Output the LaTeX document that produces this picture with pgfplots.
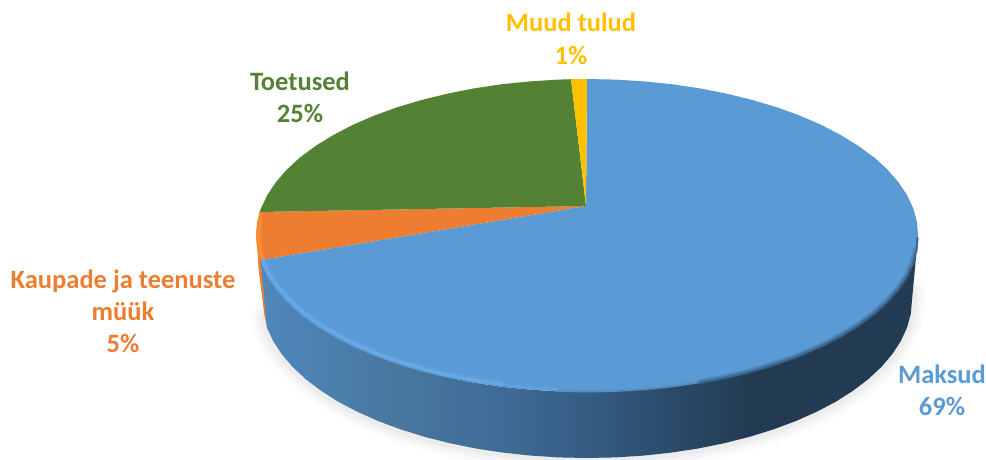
\documentclass[border=0pt]{standalone}
\usepackage{pgfplots}
\pgfplotsset{compat=1.18}
\usepackage{fontspec}
\setmainfont{Carlito}
\definecolor{cblue}{HTML}{5B9BD5}
\definecolor{corange}{HTML}{ED7D31}
\definecolor{cgreen}{HTML}{548235}
\definecolor{cyellow}{HTML}{FFC000}
\definecolor{s1}{HTML}{4F88BC}
\definecolor{s2}{HTML}{48779F}
\definecolor{s3}{HTML}{3F6C97}
\definecolor{s4}{HTML}{33597F}
\definecolor{s5}{HTML}{27445F}
\definecolor{s6}{HTML}{223B52}
\definecolor{rimlight}{HTML}{68ACEB}
\definecolor{rimorange}{HTML}{F98B36}
\pgfdeclarehorizontalshading{sideblue}{100bp}{color(0bp)=(s1); color(25bp)=(s1); color(35.6bp)=(s2); color(43.3bp)=(s3); color(51bp)=(s4); color(58.7bp)=(s5); color(62.5bp)=(s6); color(100bp)=(s6)}
\tikzset{lbl/.style={font=\fontsize{26.5}{30}\selectfont\bfseries, anchor=base, inner sep=0pt}}
\begin{document}
\begin{tikzpicture}
\path[use as bounding box] (0,0) rectangle (986pt,459pt);
\begin{axis}[
  at={(0,0)}, anchor=south west,
  scale only axis, width=986pt, height=459pt,
  xmin=0, xmax=986, ymin=0, ymax=459, y dir=reverse,
  hide axis, clip=true,
  every axis plot/.append style={line join=round, line cap=round}
]
% shadow
\addplot[draw=black, line width=26pt, opacity=0.02, forget plot] coordinates {
(912,290)(912,300)(910.8,313.8)(907.1,327.4)(900.9,340.9)(892.4,354)(881.5,366.8)(868.5,379)(853.2,390.6)(836,401.6)(816.8,411.7)(795.9,421)(773.4,429.4)(749.5,436.8)(724.3,443.2)(698.2,448.5)(671.1,452.6)(643.4,455.6)(615.3,457.4)(587,458)(558.7,457.4)(530.6,455.6)(502.9,452.6)(475.8,448.5)(449.7,443.2)(424.5,436.8)(400.6,429.4)(378.1,421)(357.2,411.7)(338,401.6)(320.8,390.6)(305.5,379)(292.5,366.8)(281.6,354)(273.1,340.9)(266.9,327.4)(264,318)
};
\addplot[draw=black, line width=18pt, opacity=0.025, forget plot] coordinates {
(912,290)(912,300)(910.8,313.8)(907.1,327.4)(900.9,340.9)(892.4,354)(881.5,366.8)(868.5,379)(853.2,390.6)(836,401.6)(816.8,411.7)(795.9,421)(773.4,429.4)(749.5,436.8)(724.3,443.2)(698.2,448.5)(671.1,452.6)(643.4,455.6)(615.3,457.4)(587,458)(558.7,457.4)(530.6,455.6)(502.9,452.6)(475.8,448.5)(449.7,443.2)(424.5,436.8)(400.6,429.4)(378.1,421)(357.2,411.7)(338,401.6)(320.8,390.6)(305.5,379)(292.5,366.8)(281.6,354)(273.1,340.9)(266.9,327.4)(264,318)
};
\addplot[draw=black, line width=10pt, opacity=0.03, forget plot] coordinates {
(912,290)(912,300)(910.8,313.8)(907.1,327.4)(900.9,340.9)(892.4,354)(881.5,366.8)(868.5,379)(853.2,390.6)(836,401.6)(816.8,411.7)(795.9,421)(773.4,429.4)(749.5,436.8)(724.3,443.2)(698.2,448.5)(671.1,452.6)(643.4,455.6)(615.3,457.4)(587,458)(558.7,457.4)(530.6,455.6)(502.9,452.6)(475.8,448.5)(449.7,443.2)(424.5,436.8)(400.6,429.4)(378.1,421)(357.2,411.7)(338,401.6)(320.8,390.6)(305.5,379)(292.5,366.8)(281.6,354)(273.1,340.9)(266.9,327.4)(264,318)
};
% orange sliver on the side
\addplot[fill=corange, draw=none, forget plot] coordinates {
(257.3,249.1)(258.5,268)(264.5,316)(268,331)(260.5,260)
} --cycle;
% side of the blue slice
\addplot[draw=none, shade, shading=sideblue, forget plot] coordinates {
(918,235.5)(912,300)(910.8,313.8)(907.1,327.4)(900.9,340.9)(892.4,354)(881.5,366.8)(868.5,379)(853.2,390.6)(836,401.6)(816.8,411.7)(795.9,421)(773.4,429.4)(749.5,436.8)(724.3,443.2)(698.2,448.5)(671.1,452.6)(643.4,455.6)(615.3,457.4)(587,458)(558.7,457.4)(530.6,455.6)(502.9,452.6)(475.8,448.5)(449.7,443.2)(424.5,436.8)(400.6,429.4)(378.1,421)(357.2,411.7)(338,401.6)(320.8,390.6)(305.5,379)(292.5,366.8)(281.6,354)(273.1,340.9)(266.9,327.4)(260.5,260)(267.3,276)(276,289)(287,301.6)(300.3,313.8)(315.9,325.3)(333.5,336.1)(352.9,346.2)(374.2,355.4)(397.1,363.7)(421.5,371)(447.1,377.3)(473.8,382.6)(501.3,386.7)(529.5,389.6)(558.1,391.4)(587,392)(615.9,391.4)(644.5,389.6)(672.7,386.7)(700.2,382.6)(726.9,377.3)(752.5,371)(776.9,363.7)(799.8,355.4)(821.1,346.2)(840.5,336.1)(858.1,325.3)(873.7,313.8)(887,301.6)(898,289)(906.7,276)(913,262.7)(916.7,249.1)
} --cycle;
% Maksud 69
\addplot[fill=cblue, draw=none, forget plot] coordinates {
(586,206)(587,79)(615.9,79.6)(644.5,81.4)(672.7,84.3)(700.2,88.4)(726.9,93.7)(752.5,100)(776.9,107.3)(799.8,115.6)(821.1,124.8)(840.5,134.9)(858.1,145.7)(873.7,157.2)(887,169.4)(898,182)(906.7,195)(913,208.3)(916.7,221.9)(918,235.5)(916.7,249.1)(913,262.7)(906.7,276)(898,289)(887,301.6)(873.7,313.8)(858.1,325.3)(840.5,336.1)(821.1,346.2)(799.8,355.4)(776.9,363.7)(752.5,371)(726.9,377.3)(700.2,382.6)(672.7,386.7)(644.5,389.6)(615.9,391.4)(587,392)(558.1,391.4)(529.5,389.6)(501.3,386.7)(473.8,382.6)(447.1,377.3)(421.5,371)(397.1,363.7)(374.2,355.4)(352.9,346.2)(333.5,336.1)(315.9,325.3)(300.3,313.8)(287,301.6)(276,289)(267.3,276)(260.5,260)
} --cycle;
% Kaupade ja teenuste muuk 5
\addplot[fill=corange, draw=none, forget plot] coordinates {
(586,206)(260.5,260)(257.3,249.1)(256,235.5)(257.3,221.9)(259.6,212)
} --cycle;
\addplot[fill=rimorange, draw=none, forget plot] coordinates {
(259.6,212)(257.3,221.9)(256,235.5)(257.3,249.1)(260.5,260)(264,258)(262,250)(261.5,235)(262,212)
} --cycle;
% Toetused 25
\addplot[fill=cgreen, draw=none, forget plot] coordinates {
(586,206)(259.6,212)(261,208.3)(267.3,195)(276,182)(287,169.4)(300.3,157.2)(315.9,145.7)(333.5,134.9)(352.9,124.8)(374.2,115.6)(397.1,107.3)(421.5,100)(447.1,93.7)(473.8,88.4)(501.3,84.3)(529.5,81.4)(558.1,79.6)(571,79.2)
} --cycle;
% Muud tulud 1
\addplot[fill=cyellow, draw=none, forget plot] coordinates {
(586,206)(571,79.2)(587,79)
} --cycle;
% light rim, lower left
\addplot[draw=rimlight, line width=5pt, opacity=.35, forget plot] coordinates {
(264,260)(269.5,274)(278.5,286)(289.5,298.5)(302.5,310.5)(318,322)(335.5,332.6)(354.5,342.7)(375.5,351.9)(398.5,360.2)(422.5,367.5)(448,373.8)(474.5,379.1)(501.5,383.2)
};
\addplot[draw=rimlight, line width=2.6pt, opacity=.85, forget plot] coordinates {
(263,260)(269,275)(278,287)(289,299.5)(302,311.5)(317.5,323)(335,333.6)(354,343.7)(375,352.9)(398,361.2)(422,368.5)(447.5,374.8)(474,380.1)(501.5,384.2)
};
\addplot[draw=rimlight, line width=1.6pt, opacity=.55, forget plot] coordinates {
(501.5,384.5)(529.5,387.4)(558,389.2)
};
% dark rim, lower right
\addplot[draw=s1, line width=2.2pt, opacity=.7, forget plot] coordinates {
(558.1,391)(587,391.6)(615.9,391)(644.5,389.2)(672.7,386.3)(700.2,382.2)
};
\addplot[draw=s3, line width=5pt, opacity=.4, forget plot] coordinates {
(700.2,381.8)(726.9,376.5)(752.5,370.2)(776.9,362.9)(799.8,354.6)(821.1,345.4)(840.5,335.3)(858.1,324.5)(873.7,313)(887,300.8)(898,288.2)(906.7,275.2)(912,262.3)(915.5,249.1)
};
\addplot[draw=s3, line width=2.2pt, forget plot] coordinates {
(700.2,382.2)(726.9,376.9)(752.5,370.6)(776.9,363.3)(799.8,355)(821.1,345.8)(840.5,335.7)(858.1,324.9)(873.7,313.4)(887,301.2)(898,288.6)(906.7,275.6)(913,262.3)(916.5,249.1)(917.5,238)
};
\addplot[draw=s3, line width=1pt, opacity=.3, forget plot] coordinates {
(917.5,235.5)(916.5,221.9)(912.8,208.3)(906.5,195)(897.8,182)(886.8,169.4)(873.5,157.2)
};
% labels
\node[lbl, text=cyellow] at (axis cs:571,31) {Muud tulud};
\node[lbl, text=cyellow] at (axis cs:571,64) {1\%};
\node[lbl, text=cgreen] at (axis cs:300,90) {Toetused};
\node[lbl, text=cgreen] at (axis cs:300,122) {25\%};
\node[lbl, text=corange] at (axis cs:123,288) {Kaupade ja teenuste};
\node[lbl, text=corange] at (axis cs:123,320) {müük};
\node[lbl, text=corange] at (axis cs:123,352) {5\%};
\node[lbl, text=cblue] at (axis cs:942,383) {Maksud};
\node[lbl, text=cblue] at (axis cs:942,415) {69\%};
\end{axis}
\end{tikzpicture}
\end{document}
